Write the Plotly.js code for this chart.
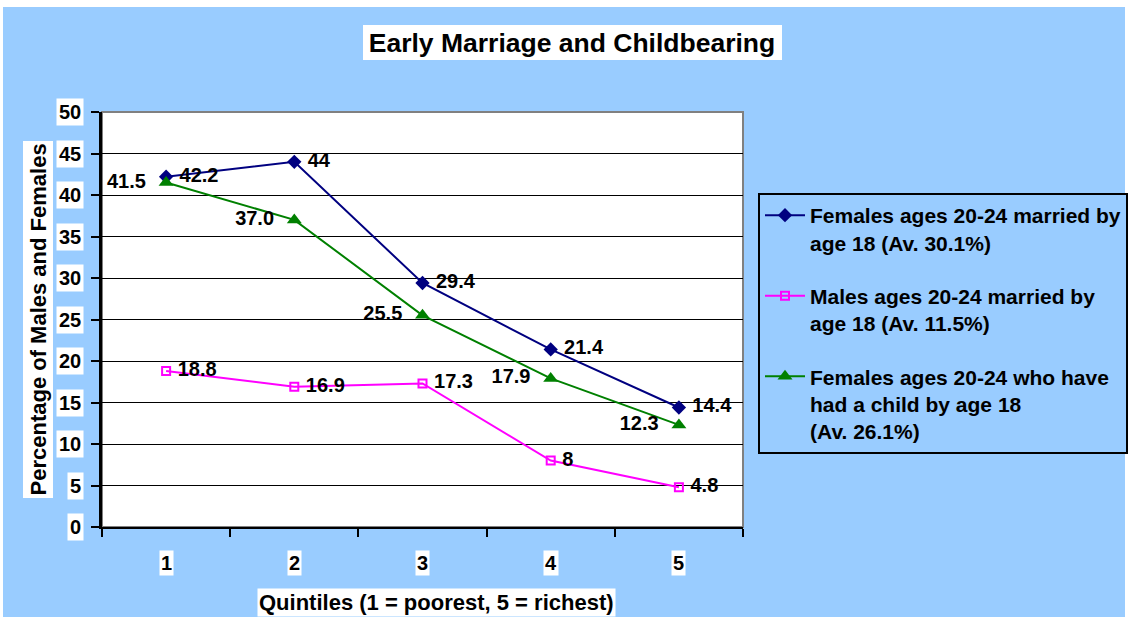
<!DOCTYPE html>
<html><head><meta charset="utf-8">
<script src="https://cdn.plot.ly/plotly-3.0.1.min.js"></script>
<style>html,body{margin:0;padding:0;background:#fff}</style>
</head><body><div id="chart" style="width:1128px;height:620px"></div>
<script>
const quintiles = ['1','2','3','4','5'];
const femalesMarried = [42.2, 44, 29.4, 21.4, 14.4];
const femalesMarriedLabels = ['42.2','44','29.4','21.4','14.4'];
const malesMarried = [18.8, 16.9, 17.3, 8, 4.8];
const malesMarriedLabels = ['18.8','16.9','17.3','8','4.8'];
const femalesChild = [41.5, 37.0, 25.5, 17.9, 12.3];
const femalesChildLabels = ['41.5','37.0','25.5','17.9','12.3'];
const yTickValues = [0,5,10,15,20,25,30,35,40,45,50];
const seriesNames = [
  'Females ages 20-24 married by<br>age 18 (Av. 30.1%)',
  'Males ages 20-24 married by<br>age 18 (Av. 11.5%)',
  'Females ages 20-24 who have<br>had a child by age 18<br>(Av. 26.1%)'
];
const titleText = 'Early Marriage and Childbearing';
const xTitleText = 'Quintiles (1 = poorest, 5 = richest)';
const yTitleText = 'Percentage of Males and Females';

const FONT = 'Arial, "Liberation Sans", sans-serif';
const lblFont = {family: FONT, size: 20, color: '#000', weight: 'bold'};
const NB = '\u00a0';

const traces = [
  {x: quintiles, y: femalesMarried, name: seriesNames[0], legendgroup: 'a', mode: 'lines+markers+text',
   text: femalesMarriedLabels, texttemplate: NB + '%{text}', textposition: 'middle right', textfont: lblFont,
   line: {color: '#000080', width: 2}, marker: {symbol: 'diamond', size: 11, color: '#000080'}},
  {x: quintiles, y: malesMarried, name: seriesNames[1], legendgroup: 'b', mode: 'lines+markers+text',
   text: malesMarriedLabels, texttemplate: NB + '%{text}', textposition: 'middle right', textfont: lblFont,
   line: {color: '#FF00FF', width: 2}, marker: {symbol: 'square-open', size: 8, color: '#FF00FF', line: {width: 2, color: '#FF00FF'}}},
  {x: quintiles, y: femalesChild, name: seriesNames[2], legendgroup: 'c', mode: 'lines+markers+text',
   text: femalesChildLabels, texttemplate: '%{text}' + NB + NB, textposition: 'middle left', textfont: lblFont,
   line: {color: '#008000', width: 2}, marker: {symbol: 'triangle-up', size: 13, color: '#008000'}}
];

const annotations = [];
quintiles.forEach((q, i) => annotations.push({
  x: i, xref: 'x', y: -0.087, yref: 'paper', text: q, showarrow: false,
  xanchor: 'center', yanchor: 'middle', bgcolor: '#fff', borderpad: 1, font: lblFont
}));
yTickValues.forEach(v => annotations.push({
  x: -0.028, xref: 'paper', y: v, yref: 'y', text: String(v), showarrow: false,
  xanchor: 'right', yanchor: 'middle', bgcolor: '#fff', borderpad: 2, font: lblFont
}));
annotations.push({x: (436-102)/641, xref: 'paper', y: -0.183, yref: 'paper', text: xTitleText, showarrow: false,
  xanchor: 'center', yanchor: 'middle', bgcolor: '#fff', borderpad: 1,
  font: {family: FONT, size: 22, color: '#000', weight: 'bold'}});
annotations.push({x: (38-102)/641, xref: 'paper', y: 0.5, yref: 'paper', text: yTitleText, showarrow: false,
  textangle: -90, xanchor: 'center', yanchor: 'middle', bgcolor: '#fff', borderpad: 2,
  font: {family: FONT, size: 22, color: '#000', weight: 'bold'}});

const layout = {
  width: 1128, height: 620,
  margin: {l: 102, r: 385, t: 112, b: 93, autoexpand: false},
  paper_bgcolor: '#fff', plot_bgcolor: '#fff',
  title: {text: titleText, x: 572/1128, xref: 'container', xanchor: 'center', y: 1-43/620, yref: 'container', yanchor: 'middle',
          font: {family: FONT, size: 26.5, color: '#000', weight: 'bold'}},
  xaxis: {type: 'category', categoryorder: 'array', categoryarray: quintiles, range: [-0.5, 4.5], tickson: 'boundaries',
          ticks: 'outside', ticklen: 8, tickwidth: 2, tickcolor: '#000', showticklabels: false,
          showgrid: false, showline: true, linecolor: '#000', linewidth: 2, zeroline: false, fixedrange: true},
  yaxis: {range: [0, 50], tickvals: yTickValues, ticks: 'outside', ticklen: 8, tickwidth: 2, tickcolor: '#000',
          showticklabels: false, showgrid: true, gridcolor: '#000', gridwidth: 1, showline: true, linecolor: '#000',
          linewidth: 3, zeroline: false, fixedrange: true},
  showlegend: true,
  legend: {x: (758-102)/641, xanchor: 'left', y: (527-193)/415, yanchor: 'top', bgcolor: '#99CCFF',
           bordercolor: '#000', borderwidth: 2, font: {family: FONT, size: 21, color: '#000', weight: 'bold'},
           tracegroupgap: 23, valign: 'top', itemwidth: 40, traceorder: 'grouped'},
  shapes: [
    {type: 'rect', xref: 'paper', yref: 'paper', x0: (3-102)/641, x1: (1125-102)/641, y0: (527-617)/415, y1: (527-7)/415,
     fillcolor: '#99CCFF', line: {width: 0}, layer: 'below'},
    {type: 'rect', xref: 'paper', yref: 'paper', x0: (363-102)/641, x1: (782-102)/641, y0: (527-60)/415, y1: (527-25)/415,
     fillcolor: '#fff', line: {width: 0}, layer: 'below'},
    {type: 'rect', xref: 'paper', yref: 'paper', x0: 0, x1: 1, y0: 0, y1: 1,
     fillcolor: '#fff', line: {width: 2, color: '#808080'}, layer: 'below'}
  ],
  annotations: annotations
};
Plotly.newPlot('chart', traces, layout, {displayModeBar: false, staticPlot: true});
</script>
</body></html>
